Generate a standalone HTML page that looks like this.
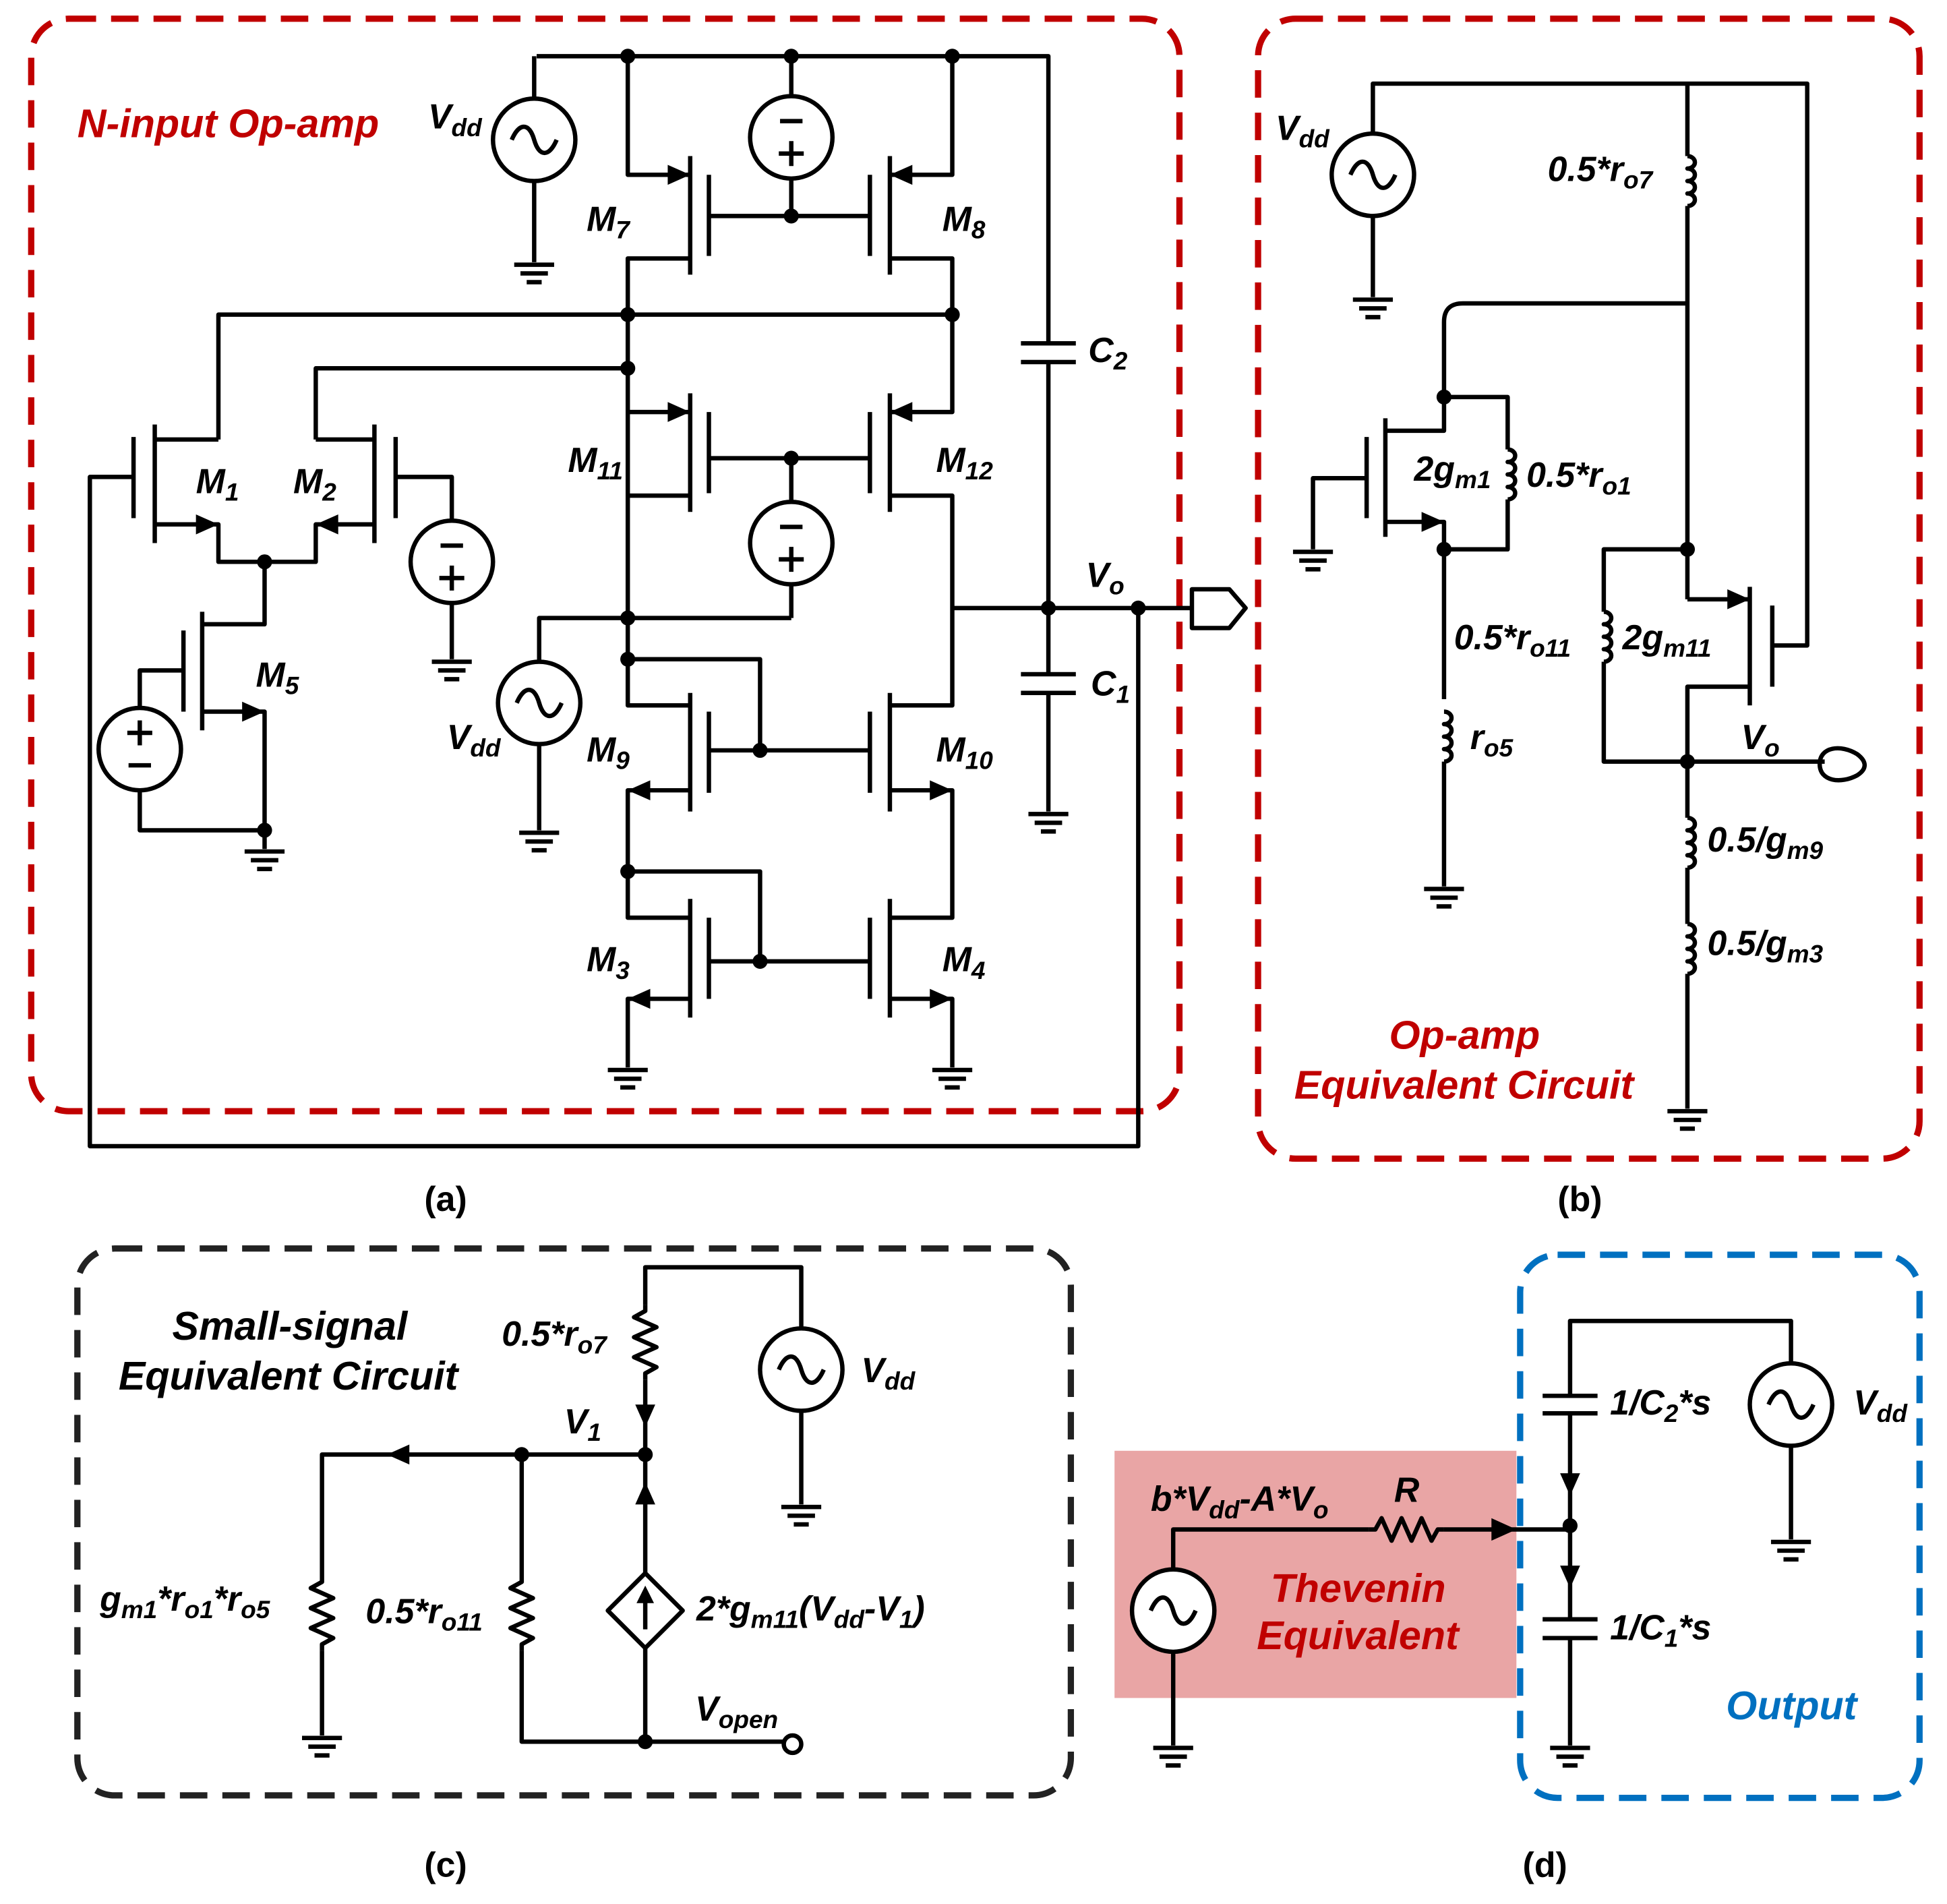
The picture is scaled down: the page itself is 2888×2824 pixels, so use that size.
<!DOCTYPE html>
<html><head><meta charset="utf-8"><style>
html,body{margin:0;padding:0;background:#fff}
svg{display:block}
text{font-family:"Liberation Sans",Arial,sans-serif;font-weight:bold;font-style:italic;font-size:28px;fill:#000}
.r{fill:#c00000}.b{fill:#0070c0}
.t{font-size:32px}
.n{font-style:normal}
</style></head><body>
<svg width="2888" height="2824" viewBox="0 0 1560 1525" preserveAspectRatio="none" xmlns="http://www.w3.org/2000/svg">
<defs>
<g id="gnd"><line x1="-16" y1="0" x2="16" y2="0"/><line x1="-11" y1="7" x2="11" y2="7"/><line x1="-6" y1="14" x2="6" y2="14"/></g>
<g id="src"><circle cx="0" cy="0" r="33" fill="#fff"/><path d="M-18 0 C-12 -14 -4 -14 0 0 C4 14 12 14 18 0" fill="none"/></g>
<g id="bat"><circle cx="0" cy="0" r="33" fill="#fff"/><line x1="-9" y1="-13" x2="9" y2="-13"/><line x1="-10" y1="13" x2="10" y2="13"/><line x1="0" y1="3" x2="0" y2="23"/></g>
<g id="batr"><circle cx="0" cy="0" r="33" fill="#fff"/><line x1="-10" y1="-13" x2="10" y2="-13"/><line x1="0" y1="-23" x2="0" y2="-3"/><line x1="-9" y1="13" x2="9" y2="13"/></g>
<g id="coil"><path d="M0 0 a6 5 0 0 1 0 10 a6 5 0 0 1 0 10 a6 5 0 0 1 0 10 a6 5 0 0 1 0 10" fill="none"/></g>
<g id="zz"><polyline points="0,0 0,5 -9,10 9,18 -9,26 9,34 -9,42 9,50 0,55 0,60" fill="none"/></g>
<g id="zzh"><polyline points="0,0 5,0 10,-9 18,9 26,-9 34,9 42,-9 50,9 55,0 60,0" fill="none"/></g>
</defs>

<rect x="893" y="1162" width="322" height="198" fill="#e8a0a0" opacity="0.95"/>

<g fill="none" stroke-width="5" stroke-dasharray="22 12">
<rect x="25" y="15" width="920" height="875" rx="30" stroke="#c00000"/>
<rect x="1008" y="15" width="530" height="913" rx="30" stroke="#c00000"/>
<rect x="62" y="1000" width="796" height="438" rx="30" stroke="#222"/>
<rect x="1218" y="1005" width="320" height="435" rx="30" stroke="#0070c0"/>
</g>

<g stroke="#000" stroke-width="3.5" fill="none" stroke-linejoin="round">
<polyline points="430,45 840,45 840,275"/>
<line x1="818" y1="275" x2="862" y2="275"/><line x1="818" y1="290" x2="862" y2="290"/>
<polyline points="840,290 840,540"/>
<line x1="818" y1="540" x2="862" y2="540"/><line x1="818" y1="555" x2="862" y2="555"/>
<line x1="840" y1="555" x2="840" y2="650"/><use href="#gnd" x="840" y="652"/>
<line x1="763" y1="487" x2="955" y2="487"/>
<polygon points="955,472 985,472 998,487 985,503 955,503"/>
<polyline points="912,487 912,918 72,918 72,382 107,382"/>
<line x1="428" y1="45" x2="428" y2="79"/><line x1="428" y1="145" x2="428" y2="210"/><use href="#gnd" x="428" y="212"/>
<use href="#src" x="428" y="112"/>
<line x1="634" y1="45" x2="634" y2="77"/><line x1="634" y1="143" x2="634" y2="173"/><use href="#bat" x="634" y="110"/>
<line x1="553" y1="125" x2="553" y2="220"/><line x1="568" y1="140" x2="568" y2="205"/>
<line x1="713" y1="125" x2="713" y2="220"/><line x1="697" y1="140" x2="697" y2="205"/>
<line x1="568" y1="173" x2="697" y2="173"/>
<polyline points="503,45 503,140 553,140"/><polyline points="553,207 503,207 503,528"/>
<polyline points="763,45 763,140 713,140"/><polyline points="713,207 763,207 763,330 713,330"/>
<polyline points="175,352 175,252 763,252"/>
<polyline points="253,352 253,295 503,295"/>
<line x1="553" y1="315" x2="553" y2="410"/><line x1="568" y1="330" x2="568" y2="395"/>
<line x1="713" y1="315" x2="713" y2="410"/><line x1="697" y1="330" x2="697" y2="395"/>
<line x1="568" y1="367" x2="697" y2="367"/>
<line x1="503" y1="330" x2="553" y2="330"/><line x1="553" y1="397" x2="503" y2="397"/>
<polyline points="634,367 634,402"/><line x1="634" y1="468" x2="634" y2="495"/><use href="#bat" x="634" y="435"/>
<polyline points="634,495 432,495 432,530"/><line x1="432" y1="596" x2="432" y2="665"/><use href="#gnd" x="432" y="667"/>
<use href="#src" x="432" y="563"/>
<polyline points="713,397 763,397 763,565 713,565"/>
<line x1="553" y1="555" x2="553" y2="650"/><line x1="568" y1="570" x2="568" y2="635"/>
<line x1="713" y1="555" x2="713" y2="650"/><line x1="697" y1="570" x2="697" y2="635"/>
<line x1="568" y1="601" x2="697" y2="601"/>
<polyline points="503,528 609,528 609,601"/><polyline points="503,528 503,565 553,565"/>
<polyline points="553,633 503,633 503,735 553,735"/>
<polyline points="713,633 763,633 763,735 713,735"/>
<line x1="553" y1="720" x2="553" y2="815"/><line x1="568" y1="735" x2="568" y2="800"/>
<line x1="713" y1="720" x2="713" y2="815"/><line x1="697" y1="735" x2="697" y2="800"/>
<line x1="568" y1="770" x2="697" y2="770"/>
<polyline points="503,698 609,698 609,770"/>
<polyline points="553,800 503,800 503,855"/><use href="#gnd" x="503" y="857"/>
<polyline points="713,800 763,800 763,855"/><use href="#gnd" x="763" y="857"/>
<line x1="124" y1="340" x2="124" y2="435"/><line x1="107" y1="350" x2="107" y2="415"/>
<polyline points="124,352 175,352"/><polyline points="124,420 175,420 175,450 253,450 253,420 300,420"/>
<line x1="300" y1="340" x2="300" y2="435"/><line x1="317" y1="350" x2="317" y2="415"/>
<polyline points="300,352 253,352"/>
<polyline points="317,382 362,382 362,417"/><line x1="362" y1="483" x2="362" y2="528"/><use href="#gnd" x="362" y="530"/>
<use href="#bat" x="362" y="450"/>
<polyline points="212,450 212,500 162,500"/>
<line x1="162" y1="490" x2="162" y2="585"/><line x1="147" y1="505" x2="147" y2="570"/>
<polyline points="147,537 112,537 112,567"/><polyline points="112,633 112,665 212,665"/>
<polyline points="162,570 212,570 212,680"/><use href="#gnd" x="212" y="682"/>
<use href="#batr" x="112" y="600"/>

<polyline points="1100,107 1100,67 1448,67 1448,517 1420,517"/>
<line x1="1100" y1="173" x2="1100" y2="238"/><use href="#gnd" x="1100" y="240"/><use href="#src" x="1100" y="140"/>
<line x1="1352" y1="67" x2="1352" y2="125"/><use href="#coil" x="1352" y="125"/><line x1="1352" y1="165" x2="1352" y2="480"/>
<path d="M1352 243 L1172 243 Q1157 243 1157 258 L1157 345 L1110 345"/>
<line x1="1110" y1="335" x2="1110" y2="430"/><line x1="1095" y1="350" x2="1095" y2="415"/>
<polyline points="1095,383 1052,383 1052,440"/><use href="#gnd" x="1052" y="442"/>
<polyline points="1110,418 1157,418 1157,560"/>
<polyline points="1157,318 1208,318 1208,360"/><use href="#coil" x="1208" y="360"/><polyline points="1208,400 1208,440 1157,440"/>
<use href="#coil" x="1157" y="570"/><line x1="1157" y1="610" x2="1157" y2="710"/><use href="#gnd" x="1157" y="712"/>
<polyline points="1352,440 1285,440 1285,490"/><use href="#coil" x="1285" y="490"/><polyline points="1285,530 1285,610 1462,610"/>
<polyline points="1352,480 1402,480"/>
<line x1="1402" y1="470" x2="1402" y2="565"/><line x1="1420" y1="485" x2="1420" y2="550"/>
<polyline points="1402,550 1352,550 1352,655"/>
<use href="#coil" x="1352" y="655"/><line x1="1352" y1="695" x2="1352" y2="740"/>
<use href="#coil" x="1352" y="740"/><line x1="1352" y1="780" x2="1352" y2="888"/><use href="#gnd" x="1352" y="890"/>
<path d="M1458 612 C1458 598 1475 596 1488 604 C1496 610 1496 616 1488 621 C1475 628 1458 626 1458 612 Z"/>

<polyline points="517,1045 517,1015 642,1015 642,1064"/><line x1="642" y1="1130" x2="642" y2="1205"/><use href="#gnd" x="642" y="1207"/><use href="#src" x="642" y="1097"/>
<use href="#zz" x="517" y="1045"/><line x1="517" y1="1105" x2="517" y2="1165"/>
<polyline points="517,1165 258,1165 258,1262"/><use href="#zz" x="258" y="1262"/><line x1="258" y1="1322" x2="258" y2="1390"/><use href="#gnd" x="258" y="1392"/>
<line x1="418" y1="1165" x2="418" y2="1262"/><use href="#zz" x="418" y="1262"/><polyline points="418,1322 418,1395 628,1395"/>
<line x1="517" y1="1165" x2="517" y2="1260"/><line x1="517" y1="1320" x2="517" y2="1395"/>
<polygon points="517,1260 547,1290 517,1320 487,1290"/>
<line x1="517" y1="1305" x2="517" y2="1278"/>
<circle cx="635" cy="1397" r="7" fill="#fff"/>

<polyline points="940,1257 940,1225 1097,1225"/><use href="#zzh" x="1097" y="1225"/><line x1="1157" y1="1225" x2="1258" y2="1225"/>
<line x1="940" y1="1323" x2="940" y2="1398"/><use href="#gnd" x="940" y="1400"/><use href="#src" x="940" y="1290"/>
<polyline points="1258,1297 1258,1132"/><line x1="1236" y1="1132" x2="1280" y2="1132"/><line x1="1236" y1="1118" x2="1280" y2="1118"/>
<polyline points="1258,1118 1258,1058 1435,1058 1435,1092"/><line x1="1435" y1="1158" x2="1435" y2="1233"/><use href="#gnd" x="1435" y="1235"/><use href="#src" x="1435" y="1125"/>
<line x1="1236" y1="1297" x2="1280" y2="1297"/><line x1="1236" y1="1312" x2="1280" y2="1312"/>
<line x1="1258" y1="1312" x2="1258" y2="1398"/><use href="#gnd" x="1258" y="1400"/>
</g>

<g fill="#000">
<polygon points="553,140 535,132 535,148"/><polygon points="713,140 731,132 731,148"/>
<polygon points="553,330 535,322 535,338"/><polygon points="713,330 731,322 731,338"/>
<polygon points="503,633 521,625 521,641"/><polygon points="763,633 745,625 745,641"/>
<polygon points="503,800 521,792 521,808"/><polygon points="763,800 745,792 745,808"/>
<polygon points="175,420 157,412 157,428"/><polygon points="253,420 271,412 271,428"/>
<polygon points="212,570 194,562 194,578"/>
<polygon points="1157,418 1139,410 1139,426"/><polygon points="1402,480 1384,472 1384,488"/>
<polygon points="517,1143 509,1125 525,1125"/><polygon points="310,1165 328,1157 328,1173"/>
<polygon points="517,1187 509,1205 525,1205"/><polygon points="517,1270 510,1284 524,1284"/>
<polygon points="1215,1225 1195,1216 1195,1234"/>
<polygon points="1258,1198 1250,1180 1266,1180"/><polygon points="1258,1272 1250,1254 1266,1254"/>
<circle cx="503" cy="45" r="6"/><circle cx="634" cy="45" r="6"/><circle cx="763" cy="45" r="6"/>
<circle cx="634" cy="173" r="6"/><circle cx="503" cy="252" r="6"/><circle cx="763" cy="252" r="6"/>
<circle cx="503" cy="295" r="6"/><circle cx="634" cy="367" r="6"/><circle cx="503" cy="495" r="6"/>
<circle cx="503" cy="528" r="6"/><circle cx="609" cy="601" r="6"/><circle cx="503" cy="698" r="6"/>
<circle cx="609" cy="770" r="6"/><circle cx="840" cy="487" r="6"/><circle cx="912" cy="487" r="6"/>
<circle cx="212" cy="450" r="6"/><circle cx="212" cy="665" r="6"/>
<circle cx="1157" cy="318" r="6"/><circle cx="1157" cy="440" r="6"/><circle cx="1352" cy="440" r="6"/><circle cx="1352" cy="610" r="6"/>
<circle cx="517" cy="1165" r="6"/><circle cx="418" cy="1165" r="6"/><circle cx="517" cy="1395" r="6"/>
<circle cx="1258" cy="1222" r="6"/>
</g>

<text x="62" y="110" class="r t">N-input Op-amp</text>
<text x="343" y="103">V<tspan font-size="20" dy="6">dd</tspan></text>
<text x="470" y="185">M<tspan font-size="20" dy="6">7</tspan></text>
<text x="755" y="185">M<tspan font-size="20" dy="6">8</tspan></text>
<text x="872" y="290">C<tspan font-size="20" dy="6">2</tspan></text>
<text x="455" y="378">M<tspan font-size="20" dy="6">11</tspan></text>
<text x="750" y="378">M<tspan font-size="20" dy="6">12</tspan></text>
<text x="157" y="395">M<tspan font-size="20" dy="6">1</tspan></text>
<text x="235" y="395">M<tspan font-size="20" dy="6">2</tspan></text>
<text x="870" y="470">V<tspan font-size="20" dy="6">o</tspan></text>
<text x="874" y="557">C<tspan font-size="20" dy="6">1</tspan></text>
<text x="205" y="550">M<tspan font-size="20" dy="6">5</tspan></text>
<text x="358" y="600">V<tspan font-size="20" dy="6">dd</tspan></text>
<text x="470" y="610">M<tspan font-size="20" dy="6">9</tspan></text>
<text x="750" y="610">M<tspan font-size="20" dy="6">10</tspan></text>
<text x="470" y="778">M<tspan font-size="20" dy="6">3</tspan></text>
<text x="755" y="778">M<tspan font-size="20" dy="6">4</tspan></text>
<text x="340" y="970" class="n">(a)</text>
<text x="1248" y="970" class="n">(b)</text>
<text x="340" y="1503" class="n">(c)</text>
<text x="1220" y="1503" class="n">(d)</text>

<text x="1022" y="112">V<tspan font-size="20" dy="6">dd</tspan></text>
<text x="1240" y="145">0.5*r<tspan font-size="20" dy="6">o7</tspan></text>
<text x="1133" y="385">2g<tspan font-size="20" dy="6">m1</tspan></text>
<text x="1223" y="390">0.5*r<tspan font-size="20" dy="6">o1</tspan></text>
<text x="1165" y="520">0.5*r<tspan font-size="20" dy="6">o11</tspan></text>
<text x="1300" y="520">2g<tspan font-size="20" dy="6">m11</tspan></text>
<text x="1178" y="600">r<tspan font-size="20" dy="6">o5</tspan></text>
<text x="1395" y="600">V<tspan font-size="20" dy="6">o</tspan></text>
<text x="1368" y="682">0.5/g<tspan font-size="20" dy="6">m9</tspan></text>
<text x="1368" y="765">0.5/g<tspan font-size="20" dy="6">m3</tspan></text>
<text x="1113" y="840" class="r t">Op-amp</text>
<text x="1037" y="880" class="r t">Equivalent Circuit</text>

<text x="138" y="1073" class="t">Small-signal</text>
<text x="95" y="1113" class="t">Equivalent Circuit</text>
<text x="402" y="1078">0.5*r<tspan font-size="20" dy="6">o7</tspan></text>
<text x="690" y="1107">V<tspan font-size="20" dy="6">dd</tspan></text>
<text x="452" y="1148">V<tspan font-size="20" dy="6">1</tspan></text>
<text x="80" y="1290">g<tspan font-size="20" dy="6">m1</tspan><tspan dy="-6">*r</tspan><tspan font-size="20" dy="6">o1</tspan><tspan dy="-6">*r</tspan><tspan font-size="20" dy="6">o5</tspan></text>
<text x="293" y="1300">0.5*r<tspan font-size="20" dy="6">o11</tspan></text>
<text x="558" y="1298">2*g<tspan font-size="20" dy="6">m11</tspan><tspan dy="-6">(V</tspan><tspan font-size="20" dy="6">dd</tspan><tspan dy="-6">-V</tspan><tspan font-size="20" dy="6">1</tspan><tspan dy="-6">)</tspan></text>
<text x="557" y="1378">V<tspan font-size="20" dy="6">open</tspan></text>

<text x="922" y="1210">b*V<tspan font-size="20" dy="6">dd</tspan><tspan dy="-6">-A*V</tspan><tspan font-size="20" dy="6">o</tspan></text>
<text x="1117" y="1203">R</text>
<text x="1018" y="1283" class="r t">Thevenin</text>
<text x="1007" y="1321" class="r t">Equivalent</text>
<text x="1290" y="1133">1/C<tspan font-size="20" dy="6">2</tspan><tspan dy="-6">*s</tspan></text>
<text x="1485" y="1133">V<tspan font-size="20" dy="6">dd</tspan></text>
<text x="1290" y="1313">1/C<tspan font-size="20" dy="6">1</tspan><tspan dy="-6">*s</tspan></text>
<text x="1383" y="1377" class="b t">Output</text>
</svg>
</body></html>
